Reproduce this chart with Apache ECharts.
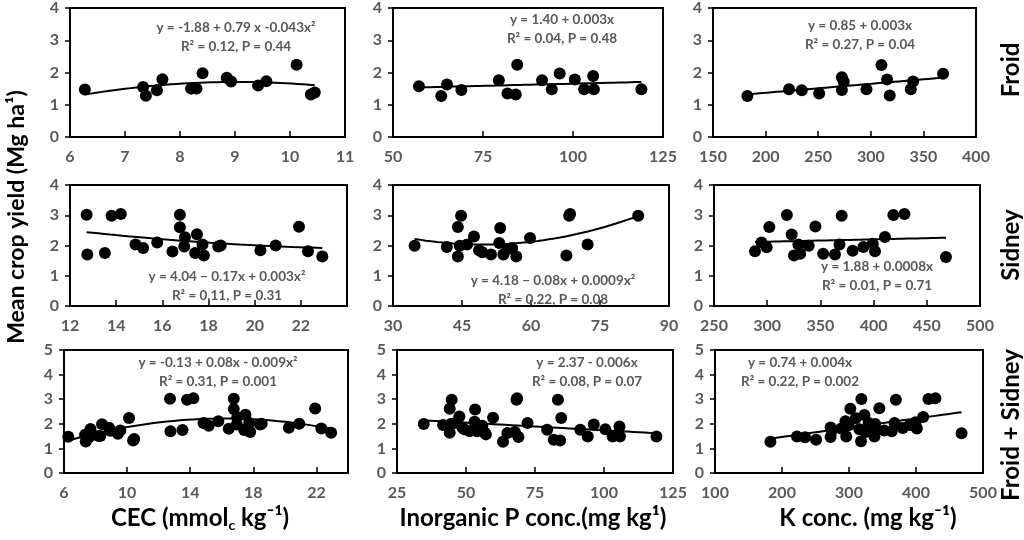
<!DOCTYPE html>
<html>
<head>
<meta charset="utf-8">
<title>Mean crop yield vs soil properties</title>
<script src="https://cdn.jsdelivr.net/npm/echarts@6/dist/echarts.min.js"></script>
<style>
    html, body { margin: 0; padding: 0; background: #fff; }
    .chart { width: 1024px; height: 540px; }
</style>
</head>
<body>
<div class="chart"></div>
<script>
// Froid 数据
var froidCecX = [6.27, 7.33, 7.38, 7.58, 7.68, 8.2, 8.3, 8.41, 8.85, 8.93, 9.42, 9.57, 10.12, 10.38, 10.45];
var froidCecY = [1.47, 1.55, 1.28, 1.45, 1.79, 1.5, 1.5, 1.98, 1.84, 1.72, 1.6, 1.73, 2.24, 1.32, 1.38];
var froidPX = [57.2, 63.4, 65.0, 69.0, 79.4, 81.8, 84.1, 84.5, 91.4, 94.1, 96.3, 100.5, 103.1, 105.6, 105.8, 119];
var froidPY = [1.57, 1.27, 1.63, 1.46, 1.76, 1.35, 1.32, 2.24, 1.76, 1.48, 1.97, 1.78, 1.48, 1.89, 1.48, 1.48];
var froidKX = [182.7, 222.3, 234.4, 250.9, 272.5, 272.5, 274.3, 295.9, 310.1, 315.5, 318, 338, 340.2, 368.7];
var froidKY = [1.27, 1.48, 1.45, 1.35, 1.85, 1.46, 1.71, 1.48, 2.23, 1.78, 1.29, 1.48, 1.72, 1.96];

// Sidney 数据
var sidneyCecX = [12.72, 12.75, 13.51, 13.8, 14.2, 14.84, 15.17, 15.78, 16.44, 16.76, 16.76, 16.95, 16.98, 17.42, 17.5, 17.74, 17.8, 18.42, 18.53, 20.25, 20.91, 21.92, 22.31, 22.93];
var sidneyCecY = [3.02, 1.7, 1.75, 2.98, 3.04, 2.03, 1.92, 2.1, 1.8, 3.02, 2.6, 1.97, 2.27, 1.75, 2.37, 2.03, 1.67, 1.97, 2.0, 1.84, 2.0, 2.62, 1.81, 1.64];
var sidneyPX = [34.7, 41.7, 44.1, 44.1, 44.8, 44.5, 46.1, 47.6, 48.7, 49.4, 51.3, 53.3, 53.1, 54.0, 54.9, 55.9, 56.8, 59.8, 67.7, 68.3, 68.5, 72.3, 83.3];
var sidneyPY = [1.99, 1.95, 2.61, 1.64, 2.98, 1.99, 2.03, 2.3, 1.84, 1.78, 1.7, 2.58, 2.08, 1.7, 1.88, 1.92, 1.64, 2.25, 1.67, 2.98, 3.04, 2.03, 2.98];
var sidneyKX = [288.5, 294.7, 299.5, 302, 318.5, 323, 325.2, 329.3, 331, 339, 345.3, 352.6, 363.7, 367.9, 370, 380.3, 390.4, 399.2, 401.3, 410.7, 418.6, 429, 468];
var sidneyKY = [1.81, 2.1, 1.94, 2.61, 3.01, 2.36, 1.67, 2.03, 1.73, 1.99, 2.63, 1.73, 1.7, 2.03, 2.98, 1.83, 1.95, 2.06, 1.81, 2.28, 3.01, 3.04, 1.62];

// 坐标轴刻度 [min, max, interval]
var cecTicks = [[6, 11, 1], [12, 24, 2], [6, 24, 4]];
var pTicks = [[50, 125, 25], [30, 90, 15], [25, 125, 25]];
var kTicks = [[150, 400, 50], [250, 500, 50], [100, 500, 100]];
var yieldMax = [4, 4, 5];

// 回归方程文字
var equations = [
    ['y = -1.88 + 0.79 x -0.043x²', 'R² = 0.12, P = 0.44'],
    ['y = 1.40 + 0.003x', 'R² = 0.04, P = 0.48'],
    ['y = 0.85 + 0.003x', 'R² = 0.27, P = 0.04'],
    ['y = 4.04 − 0.17x + 0.003x²', 'R² = 0.11, P = 0.31'],
    ['y = 4.18 − 0.08x + 0.0009x²', 'R² = 0.22, P = 0.08'],
    ['y = 1.88 + 0.0008x', 'R² = 0.01, P = 0.71'],
    ['y = -0.13 + 0.08x - 0.009x²', 'R² = 0.31, P = 0.001'],
    ['y = 2.37 - 0.006x', 'R² = 0.08, P = 0.07'],
    ['y = 0.74 + 0.004x', 'R² = 0.22, P = 0.002']
];
var fitDegree = [2, 1, 1, 2, 2, 1, 2, 1, 1];
var siteNames = ['Froid', 'Sidney', 'Froid + Sidney'];

(function () {
    var myChart = echarts.init(document.querySelector('.chart'));

    // 每个小图的位置
    var grids = [
        [70, 7, 275, 130], [393, 7, 270, 130], [713, 7, 263, 130],
        [70, 185, 277, 121], [393, 185, 276, 121], [714, 185, 266, 121],
        [64, 350, 284, 123], [397, 350, 276, 123], [715, 350, 268, 123]
    ];
    // 方程第一行中心
    var eqPos = [
        [236, 28], [562, 20], [860, 26],
        [227, 277], [553, 281], [877, 267],
        [218, 363], [587, 363], [800, 363]
    ];

    var panels = [
        [froidCecX, froidCecY], [froidPX, froidPY], [froidKX, froidKY],
        [sidneyCecX, sidneyCecY], [sidneyPX, sidneyPY], [sidneyKX, sidneyKY],
        [froidCecX.concat(sidneyCecX), froidCecY.concat(sidneyCecY)],
        [froidPX.concat(sidneyPX), froidPY.concat(sidneyPY)],
        [froidKX.concat(sidneyKX), froidKY.concat(sidneyKY)]
    ];

    // 最小二乘拟合
    function polyfit(xs, ys, deg) {
        var n = deg + 1, A = [], i, j, k;
        for (i = 0; i < n; i++) {
            A.push([]);
            for (j = 0; j <= n; j++) A[i].push(0);
        }
        for (k = 0; k < xs.length; k++) {
            for (i = 0; i < n; i++) {
                for (j = 0; j < n; j++) A[i][j] += Math.pow(xs[k], i + j);
                A[i][n] += ys[k] * Math.pow(xs[k], i);
            }
        }
        for (i = 0; i < n; i++) {
            for (k = i + 1; k < n; k++) {
                var f = A[k][i] / A[i][i];
                for (j = i; j <= n; j++) A[k][j] -= f * A[i][j];
            }
        }
        var c = [];
        for (i = n - 1; i >= 0; i--) {
            var s = A[i][n];
            for (j = i + 1; j < n; j++) s -= A[i][j] * c[j];
            c[i] = s / A[i][i];
        }
        return c;
    }

    function textEl(txt, x, y, size, color, rotate) {
        return {
            type: 'text', x: x, y: y, rotation: rotate ? Math.PI / 2 : 0, z: 10,
            style: {
                text: txt, align: 'center', verticalAlign: 'middle', fill: color,
                fontSize: size, fontWeight: 'bold', fontFamily: 'Lato'
            }
        };
    }

    var labelStyle = { color: '#595959', fontSize: 16, fontWeight: 'bold', fontFamily: 'Lato' };
    var axisLine = { lineStyle: { color: '#000', width: 2 } };

    var grid = [], xAxis = [], yAxis = [], series = [], graphic = [];

    for (var p = 0; p < 9; p++) {
        var row = Math.floor(p / 3), col = p % 3;
        var ticks = [cecTicks, pTicks, kTicks][col][row];
        var g = grids[p];
        grid.push({ left: g[0], top: g[1], width: g[2], height: g[3], show: true, borderColor: '#000', borderWidth: 2 });
        xAxis.push({
            type: 'value', gridIndex: p, min: ticks[0], max: ticks[1], interval: ticks[2],
            axisLine: axisLine,
            axisTick: { inside: true, length: 6, lineStyle: { color: '#000', width: 1.5 } },
            axisLabel: Object.assign({ margin: 12, showMaxLabel: ticks[1] !== 24 }, labelStyle),
            splitLine: { show: false }
        });
        yAxis.push({
            type: 'value', gridIndex: p, min: 0, max: yieldMax[row], interval: 1,
            axisLine: axisLine,
            axisTick: { length: 5, lineStyle: { color: '#000', width: 1.5 } },
            axisLabel: Object.assign({ margin: 11 }, labelStyle),
            splitLine: { show: false }
        });

        var xs = panels[p][0], ys = panels[p][1];
        var pts = xs.map(function (x, i) { return [x, ys[i]]; });
        series.push({
            type: 'scatter', xAxisIndex: p, yAxisIndex: p, data: pts,
            symbolSize: 12, itemStyle: { color: '#000', opacity: 1 }, z: 3
        });

        // 趋势线
        var c = polyfit(xs, ys, fitDegree[p]);
        var lo = Math.min.apply(null, xs), hi = Math.max.apply(null, xs);
        var line = [];
        for (var s = 0; s <= 40; s++) {
            var x = lo + (hi - lo) * s / 40, y = 0;
            for (var d = 0; d < c.length; d++) y += c[d] * Math.pow(x, d);
            line.push([x, y]);
        }
        series.push({
            type: 'line', xAxisIndex: p, yAxisIndex: p, data: line, showSymbol: false,
            lineStyle: { color: '#000', width: 2 }, z: 4, silent: true
        });

        graphic.push(textEl(equations[p][0], eqPos[p][0], eqPos[p][1], 13.5, '#595959'));
        graphic.push(textEl(equations[p][1], eqPos[p][0], eqPos[p][1] + 19, 13.5, '#595959'));
    }

    // 标题文字
    graphic.push(textEl('Mean crop yield (Mg ha¹)', 17, 217, 23, '#000', true));
    var sideY = [70, 245, 425];
    for (var r = 0; r < 3; r++) {
        graphic.push(textEl(siteNames[r], 1011, sideY[r], 24, '#000', true));
    }
    graphic.push({
        type: 'text', x: 200, y: 518, z: 10,
        style: {
            text: '{a|CEC (mmol}{s|c}{a| kg⁻¹)}', align: 'center', verticalAlign: 'middle',
            rich: {
                a: { fontSize: 24, fontWeight: 'bold', fontFamily: 'Lato', fill: '#000', color: '#000' },
                s: { fontSize: 14, fontWeight: 'bold', fontFamily: 'Lato', fill: '#000', color: '#000', padding: [14, 0, 0, 0] }
            }
        }
    });
    graphic.push(textEl('Inorganic P conc.(mg kg¹)', 533, 518, 24, '#000'));
    graphic.push(textEl('K conc. (mg kg⁻¹)', 868, 518, 24, '#000'));

    var option = {
        backgroundColor: '#fff',
        animation: false,
        grid: grid,
        xAxis: xAxis,
        yAxis: yAxis,
        series: series,
        graphic: graphic
    };

    myChart.setOption(option);

    window.addEventListener('resize', function () {
        myChart.resize();
    });
})();
</script>
</body>
</html>
